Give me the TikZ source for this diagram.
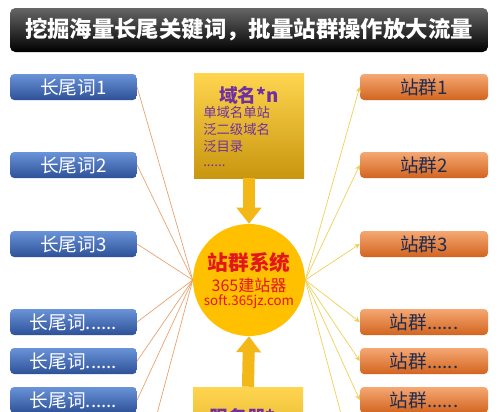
\documentclass[tikz,border=0pt]{standalone}
\usepackage{fontspec}
\setmainfont{Noto Sans CJK SC}
\usetikzlibrary{arrows.meta,shadings}
\definecolor{kwtop}{HTML}{6A93D8}
\definecolor{kwbot}{HTML}{2D5198}
\definecolor{grptop}{HTML}{F5A873}
\definecolor{grpbot}{HTML}{D2641F}
\definecolor{goldtop}{HTML}{FFD54F}
\definecolor{goldbot}{HTML}{C9960F}
\definecolor{hubfill}{HTML}{FFC000}
\definecolor{plum}{HTML}{7030A0}
\definecolor{hubred}{HTML}{E3161B}
\definecolor{navy}{HTML}{1F2B4E}
\definecolor{kwline}{HTML}{E9A06A}
\definecolor{grpline}{HTML}{F0CF50}
\definecolor{arrowgold}{HTML}{F3B718}
\newcommand{\etcdots}{......}
\tikzset{
  px/.style={x=0.75pt,y=-0.75pt},
  banner/.style={rounded corners=4pt, top color=black!60, bottom color=black,
    text=white, font=\bfseries\fontsize{16.8}{16.8}\selectfont,
    minimum width=358.5pt, minimum height=33pt, inner sep=0pt},
  kwbox/.style={rounded corners=3pt, top color=kwtop, bottom color=kwbot,
    text=white, font=\fontsize{14}{14}\selectfont,
    minimum width=95pt, minimum height=19.5pt, inner sep=0pt},
  grpbox/.style={rounded corners=3pt, top color=grptop, bottom color=grpbot,
    text=navy, font=\fontsize{14}{14}\selectfont,
    minimum width=96pt, minimum height=19.5pt, inner sep=0pt},
  goldbox/.style={top color=goldtop, bottom color=goldbot,
    minimum width=82.5pt, inner sep=0pt},
  hubdisc/.style={circle, fill=hubfill, minimum size=84pt, inner sep=0pt},
  kwlink/.style={draw=kwline, line width=0.5pt},
  grplink/.style={draw=grpline, line width=0.5pt, -{Stealth[length=4pt,width=4pt]}},
  fatarrow/.style={draw=arrowgold, line width=9pt, -{Triangle[width=18pt,length=12pt]}},
}
\begin{document}
\begin{tikzpicture}[px]
\useasboundingbox (0,0) rectangle (500,411);
\fill[white] (0,0) rectangle (500,411);
\begin{scope}
\clip (0,0) rectangle (500,411);
\node[banner] (title) at (249,30) {挖掘海量长尾关键词，批量站群操作放大流量};

% domain box, server box and the hub
\node[goldbox, minimum height=78.75pt] (dom) at (249,125.5) {};
\node[goldbox, minimum height=78pt] (srv) at (248,439) {};
\node[hubdisc] (hub) at (249,280) {};
\node[text=plum, font=\bfseries\fontsize{14}{14}\selectfont] (domname) at (249,95) {域名*n};
\node[text=plum, font=\fontsize{10}{12.8}\selectfont, align=left, anchor=north west, inner sep=0pt]
  (domlist) at (203,106) {单域名单站\\泛二级域名\\泛目录\\[-2pt]\etcdots};
\node[text=plum, font=\bfseries\fontsize{14}{14}\selectfont] (srvname) at (249,417) {服务器*n};
\node[text=hubred, font=\bfseries\fontsize{15.5}{15.5}\selectfont] (hubname) at (249,263) {站群系统};
\node[text=hubred, font=\fontsize{12}{12}\selectfont] (hubsub) at (249,285) {365建站器};
\node[text=hubred, font=\fontsize{10}{10}\selectfont] (hubweb) at (249,302) {soft.365jz.com};
\draw[fatarrow] (dom.south) -- (hub.north);
\draw[fatarrow] (srv.north) -- (hub.south);

% keyword boxes and group boxes
\foreach \i/\y/\t in {1/87/1,2/165/2,3/244/3,4/322/\etcdots,5/361/\etcdots,6/400/\etcdots}{
  \node[kwbox] (kw\i) at (73.5,\y) {长尾词\t};
  \node[grpbox] (grp\i) at (424,\y) {站群\t};
  \draw[kwlink] (kw\i.east) -- (hub.west);
  \draw[grplink] (hub.east) -- (grp\i.west);
}
\coordinate (kwmore) at (150,440);
\coordinate (grpmore) at (348,440);
\draw[kwlink] (kwmore) -- (hub.west);
\draw[kwlink, draw=grpline] (hub.east) -- (grpmore);
\end{scope}
\end{tikzpicture}
\end{document}
